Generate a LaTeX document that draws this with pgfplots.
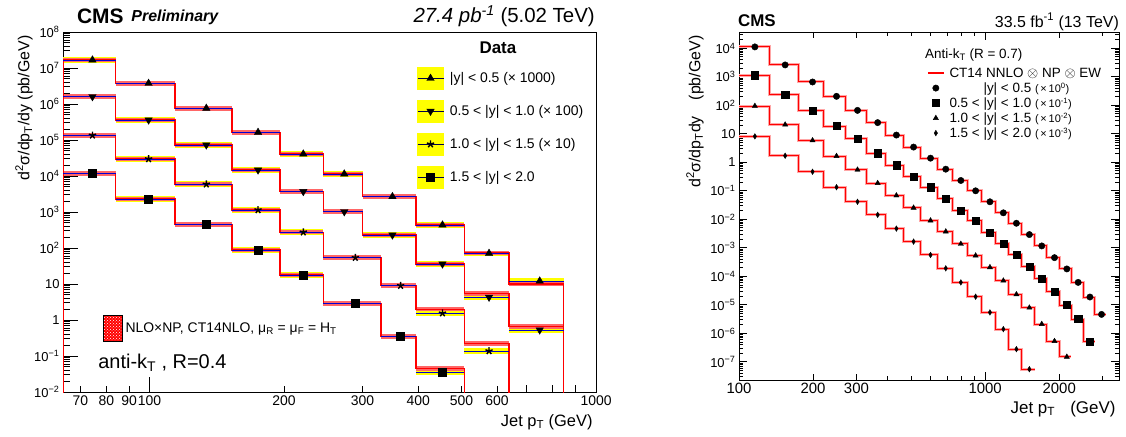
\documentclass[border=0pt]{standalone}
\usepackage{pgfplots}
\pgfplotsset{compat=1.18}
\usepackage{pgfplotstable}
\usepackage{fontspec}
\setmainfont{Liberation Sans}
\usetikzlibrary{patterns}

\newcommand\fs[1]{\fontsize{#1}{#1}\selectfont}
\newcommand\ls{\rule[-3bp]{0pt}{13bp}}
\definecolor{rootred}{RGB}{255,0,0}
\definecolor{rootblue}{RGB}{0,0,210}
\definecolor{rootyellow}{RGB}{255,255,0}

% ---------- left panel, 5.02 TeV: lower bin edge, marker pT, data, theory
\pgfplotstableread{
edge pt   data    theo
64   nan  1e-3    1e-3
64   74.5 1.67e7  1.67e7
84   99.5 3.75e6  3.75e6
114  134  7.6e5   7.6e5
153  175  1.63e5  1.63e5
196  221  4.08e4  4.08e4
245  273  1.14e4  1.14e4
300  350  2.67e3  2.67e3
395  453  435     435
507  576  71      72
638  748  12.1    10
846  nan  12.1    10
846  nan  1e-3    1e-3
}\lA
\pgfplotstableread{
edge pt   data    theo
64   nan  1e-3    1e-3
64   74.5 1.6e6   1.6e6
84   99.5 3.6e5   3.6e5
114  134  7.3e4   7.3e4
153  175  1.47e4  1.47e4
196  221  3.7e3   3.7e3
245  273  1.02e3  1.02e3
300  350  230     230
395  453  36      36
507  576  4.3     5.5
638  748  0.53    0.65
846  nan  0.53    0.65
846  nan  1e-3    1e-3
}\lB
\pgfplotstableread{
edge pt   data    theo
64   nan  1e-3    1e-3
64   74.5 1.35e5  1.35e5
84   99.5 2.97e4  2.97e4
114  134  5.9e3   5.9e3
153  175  1.14e3  1.14e3
196  221  275     275
245  289  54      54
330  365  9.0     9.0
395  453  1.55    2.0
507  576  0.138   0.225
638  nan  0.138   0.225
638  nan  1e-3    1e-3
}\lC
\pgfplotstableread{
edge pt   data    theo
64   nan  1e-3    1e-3
64   74.5 1.19e4  1.19e4
84   99.5 2.3e3   2.3e3
114  134  454     454
153  175  88      88
196  221  17.8    17.8
245  289  2.9     2.9
330  365  0.344   0.344
395  453  0.035   0.045
507  nan  0.035   0.045
507  nan  1e-3    1e-3
}\lD

% ---------- right panel, 13 TeV: lower bin edge, marker pT, value
\pgfplotstableread{
edge pt   y
97   116  1.11e4
133  154  2590
174  199  653
220  249  205
272  303  66
330  366  24.5
395  436  8.97
468  512  3.40
548  600  1.39
638  692  0.571
737  797  0.229
846  915  0.0995
967  1046 0.0409
1101 1186 0.0168
1248 1340 7.23e-3
1410 1513 2.90e-3
1588 1699 1.16e-3
1784 1914 4.5e-4
2000 2148 1.81e-4
2238 2388 6.1e-5
2500 2666 1.87e-5
2787 2972 4.6e-6
3103 nan  4.6e-6
}\rA
\pgfplotstableread{
edge pt   y
97   116  1125
133  154  236
174  199  64.6
220  249  18.6
272  303  6.7
330  366  2.09
395  436  0.79
468  512  0.309
548  600  0.133
638  692  0.052
737  797  0.0202
846  915  8.8e-3
967  1046 3.33e-3
1101 1186 1.37e-3
1248 1340 5.6e-4
1410 1513 2.17e-4
1588 1699 8.3e-5
1784 1914 2.97e-5
2000 2148 9.8e-6
2238 2388 3.15e-6
2500 2666 5.15e-7
2787 nan  5.15e-7
}\rB
\pgfplotstableread{
edge pt   y
97   116  93.8
133  154  20.8
174  199  5.83
220  249  1.64
272  303  0.544
330  366  0.184
395  436  0.068
468  512  0.0252
548  600  9.0e-3
638  692  3.7e-3
737  797  1.36e-3
846  915  5.3e-4
967  1046 2.06e-4
1101 1186 7.0e-5
1248 1340 2.31e-5
1410 1513 7.9e-6
1588 1699 2.1e-6
1784 1914 5.3e-7
2000 2148 1.49e-7
2238 nan  1.49e-7
}\rC
\pgfplotstableread{
edge pt   y
97   116  8.07
133  154  1.69
174  199  0.463
220  249  0.133
272  303  0.041
330  366  0.0143
395  436  4.7e-3
468  512  1.64e-3
548  600  5.6e-4
638  692  1.9e-4
737  797  6.1e-5
846  915  1.92e-5
967  1046 5.4e-6
1101 1186 1.4e-6
1248 1340 2.78e-7
1410 1513 5.5e-8
1588 nan  5.5e-8
}\rD

\pgfplotsset{
  rootlog/.style={
    log number format basis/.code 2 args={%
      \pgfmathtruncatemacro\ex{round(##2)}%
      \ifnum\ex=0 1\else\ifnum\ex=1 10\else
        10\textsuperscript{\ifnum\ex<0 −\number-\ex\else\ex\fi}\fi\fi}},
  dband/.style={forget plot, jump mark left, draw=rootyellow, line width=5.5bp},
  thband/.style={forget plot, jump mark left, draw=rootred!60, line width=4.5bp},
  thline/.style={forget plot, const plot, draw=rootred, line width=1.3bp},
  dline/.style={forget plot, jump mark left, draw=rootblue, line width=0.7bp},
  dleg/.style={legend image code/.code={
      \fill[rootyellow] (0bp,-11bp) rectangle (26bp,11bp);
      \draw[black!70!blue, line width=0.8bp] (0bp,0bp) -- (26bp,0bp);
      \draw plot coordinates {(13bp,0bp)};}},
  rhist/.style={forget plot, const plot, draw=rootred, line width=1bp},
  rband/.style={forget plot, const plot, draw=rootred!35, line width=3bp},
  rleg/.style={legend image code/.code={\draw plot coordinates {(8bp,0bp)};}},
}

\begin{document}
\begin{tikzpicture}
\useasboundingbox (0bp,0bp) rectangle (1126bp,437bp);

% ================= left panel =================
\begin{axis}[
  at={(63bp,45bp)}, anchor=south west,
  scale only axis, width=533bp, height=360bp,
  xmode=log, ymode=log, xmin=64, xmax=1000, ymin=1e-2, ymax=1e8,
  rootlog, max space between ticks=20,
  clip mode=individual,
  tick pos=left, tick align=inside,
  axis line style={line width=0.8bp},
  every tick/.style={black, line width=0.7bp},
  major tick length=15bp, minor tick length=7bp,
  xtick={100,1000}, xticklabels={100,1000},
  extra x ticks={70,80,90,200,300,400,500,600},
  extra x tick labels={70,80,90,200,300,400,500,600},
  extra x tick style={major tick length=6bp},
  minor xtick={700,800,900},
  xticklabel style={font=\fs{14}}, yticklabel style={font=\fs{13}},
  xlabel={Jet p\textsubscript{T} (GeV)},
  xlabel style={font=\fs{16.5}, at={(axis description cs:1,-0.083)}, anchor=east},
  ylabel={d\textsuperscript{2}σ/dp\textsubscript{T}/dy (pb/GeV)},
  ylabel style={font=\fs{16}, at={(axis description cs:-0.073,1)}, anchor=east},
  legend style={at={(0.664,0.903)}, anchor=north west, draw=none, fill=none,
    inner sep=0pt, row sep=10.5bp, column sep=6bp, font=\fs{14},
    nodes={inner sep=0pt}},
  legend cell align=left,
]
\addplot[dband] table[x=edge,y=data]{\lA};
\addplot[dband] table[x=edge,y=data]{\lB};
\addplot[dband] table[x=edge,y=data]{\lC};
\addplot[dband] table[x=edge,y=data]{\lD};
\addplot[thband] table[x=edge,y=theo]{\lA};
\addplot[thband] table[x=edge,y=theo]{\lB};
\addplot[thband] table[x=edge,y=theo]{\lC};
\addplot[thband] table[x=edge,y=theo]{\lD};
\addplot[thline] table[x=edge,y=theo]{\lA};
\addplot[thline] table[x=edge,y=theo]{\lB};
\addplot[thline] table[x=edge,y=theo]{\lC};
\addplot[thline] table[x=edge,y=theo]{\lD};
\addplot[dline] table[x=edge,y=data]{\lA};
\addplot[dline] table[x=edge,y=data]{\lB};
\addplot[dline] table[x=edge,y=data]{\lC};
\addplot[dline] table[x=edge,y=data]{\lD};

\addplot[only marks, black, mark=triangle*, mark size=4.3bp, dleg] table[x=pt,y=data]{\lA};
\addlegendentry{|y| < 0.5 (× 1000)}
\addplot[only marks, black, mark=triangle*, mark size=4.3bp, mark options={rotate=180}, dleg] table[x=pt,y=data]{\lB};
\addlegendentry{0.5 < |y| < 1.0 (× 100)}
\addplot[only marks, black, mark=star, mark size=3.8bp, mark options={line width=1.4bp}, dleg] table[x=pt,y=data]{\lC};
\addlegendentry{1.0 < |y| < 1.5 (× 10)}
\addplot[only marks, black, mark=square*, mark size=4bp, dleg] table[x=pt,y=data]{\lD};
\addlegendentry{1.5 < |y| < 2.0}

\node[anchor=west, inner sep=0pt, font=\fs{21}\bfseries] at (axis description cs:0.026,1.044) {CMS};
\node[anchor=west, inner sep=0pt, font=\fs{16}\bfseries\itshape] at (axis description cs:0.128,1.040) {Preliminary};
\node[anchor=east, inner sep=0pt, font=\fs{20.5}] at (axis description cs:0.998,1.044) {\textit{27.4 pb\textsuperscript{-1}} (5.02 TeV)};
\node[inner sep=0pt, font=\fs{17}\bfseries] at (axis description cs:0.816,0.956) {Data};
\node[anchor=west, inner sep=0pt, font=\fs{20}] at (axis description cs:0.066,0.081) {anti-k\textsubscript{T} , R=0.4};
\end{axis}

% theory legend of the left panel
\begin{axis}[
  at={(63bp,45bp)}, anchor=south west,
  scale only axis, width=533bp, height=360bp,
  hide axis, xmin=0, xmax=1, ymin=0, ymax=1,
  legend style={at={(0.075,0.214)}, anchor=north west, draw=none, fill=none,
    inner sep=0pt, column sep=3bp, font=\fs{14}, nodes={inner sep=0pt}},
]
\addlegendimage{legend image code/.code={
  \fill[rootred] (0bp,-13bp) rectangle (19bp,13bp);
  \fill[pattern=crosshatch dots, pattern color=white] (0bp,-13bp) rectangle (19bp,13bp);}}
\addlegendentry{NLO×NP, CT14NLO, μ\textsubscript{R} = μ\textsubscript{F} = H\textsubscript{T}}
\end{axis}

% ================= right panel =================
\begin{axis}[
  at={(739bp,57bp)}, anchor=south west,
  scale only axis, width=380bp, height=348bp,
  xmode=log, ymode=log, xmin=100, xmax=3500, ymin=2.3e-8, ymax=3.7e4,
  rootlog, max space between ticks=20,
  clip mode=individual,
  tick align=inside,
  axis line style={line width=0.8bp},
  every tick/.style={black, line width=0.7bp},
  major tick length=8bp, minor tick length=4bp,
  xtick={100,1000}, xticklabels={100,1000},
  extra x ticks={200,300,2000}, extra x tick labels={200,300,2000},
  extra x tick style={major tick length=6bp},
  minor xtick={400,500,600,700,800,900,3000},
  xticklabel style={font=\fs{15}}, yticklabel style={font=\fs{13}},
  xlabel={Jet p\textsubscript{T}\hspace{0.9em}(GeV)},
  xlabel style={font=\fs{17}, at={(axis description cs:1,-0.083)}, anchor=east},
  ylabel={d\textsuperscript{2}σ/dp\textsubscript{T}dy\hspace{1em}(pb/GeV)},
  ylabel style={font=\fs{16}, at={(axis description cs:-0.116,1)}, anchor=east},
  legend style={at={(0.4947,0.899)}, anchor=north west, draw=none, fill=none,
    inner sep=0pt, row sep=3.5bp, column sep=5bp, font=\fs{13.5},
    nodes={inner sep=0pt}},
  legend cell align=left,
]
\addplot[rband] table[x=edge,y=y]{\rA};
\addplot[rband] table[x=edge,y=y]{\rB};
\addplot[rband] table[x=edge,y=y]{\rC};
\addplot[rband] table[x=edge,y=y]{\rD};
\addplot[rhist] table[x=edge,y=y]{\rA};
\addplot[rhist] table[x=edge,y=y]{\rB};
\addplot[rhist] table[x=edge,y=y]{\rC};
\addplot[rhist] table[x=edge,y=y]{\rD};

\addlegendimage{color=rootred, line width=1.3bp,
  legend image code/.code={\draw[color=rootred, line width=1.3bp] (0bp,0bp) -- (16bp,0bp);}}
\addlegendentry{\ls CT14 NNLO $\otimes$ NP $\otimes$ EW}

\addplot[only marks, black, mark=*, mark size=3.2bp, rleg] table[x=pt,y=y]{\rA};
\addlegendentry{\ls\phantom{0.5 < }|y| < 0.5 {\fs{11}(\,×\,10\textsuperscript{0})}}
\addplot[only marks, black, mark=square*, mark size=3.6bp, rleg] table[x=pt,y=y]{\rB};
\addlegendentry{\ls 0.5 < |y| < 1.0 {\fs{11}(\,×\,10\textsuperscript{-1})}}
\addplot[only marks, black, mark=triangle*, mark size=3bp, rleg] table[x=pt,y=y]{\rC};
\addlegendentry{\ls 1.0 < |y| < 1.5 {\fs{11}(\,×\,10\textsuperscript{-2})}}
\addplot[only marks, black, mark=diamond*, mark size=2.8bp, mark options={xscale=0.8}, rleg] table[x=pt,y=y]{\rD};
\addlegendentry{\ls 1.5 < |y| < 2.0 {\fs{11}(\,×\,10\textsuperscript{-3})}}

\node[anchor=west, inner sep=0pt, font=\fs{17}\bfseries] at (axis description cs:-0.003,1.032) {CMS};
\node[anchor=east, inner sep=0pt, font=\fs{16}] at (axis description cs:1,1.029) {33.5 fb\textsuperscript{-1} (13 TeV)};
\node[anchor=west, inner sep=0pt, font=\fs{13.5}] at (axis description cs:0.4895,0.934) {Anti-k\textsubscript{T} (R = 0.7)};
\end{axis}
\end{tikzpicture}
\end{document}
